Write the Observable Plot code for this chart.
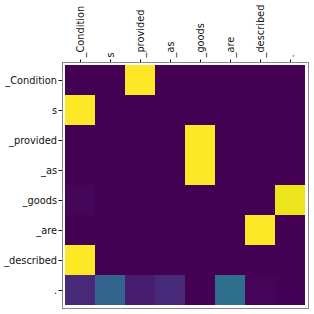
<!DOCTYPE html>
<html>
<head>
<meta charset="utf-8">
<script src="https://cdn.jsdelivr.net/npm/d3@7"></script>
<script src="https://cdn.jsdelivr.net/npm/@observablehq/plot@0.6"></script>
<style>
  html, body { margin: 0; padding: 0; background: #fff; }
  #chart svg { display: block; }
</style>
</head>
<body>
<div id="chart"></div>
<script>
const tokens = ["_Condition", "s", "_provided", "_as", "_goods", "_are", "_described", "."];
const row0 = [0, 0, 1, 0, 0, 0, 0, 0];
const row1 = [1, 0, 0, 0, 0, 0, 0, 0];
const row2 = [0, 0, 0, 0, 1, 0, 0, 0];
const row3 = [0, 0, 0, 0, 1, 0, 0, 0];
const row4 = [0.015, 0, 0, 0, 0, 0, 0, 0.97];
const row5 = [0, 0, 0, 0, 0, 0, 1, 0];
const row6 = [1, 0, 0, 0, 0, 0, 0, 0];
const row7 = [0.11, 0.32, 0.08, 0.12, 0, 0.36, 0.01, 0.005];
const rows = [row0, row1, row2, row3, row4, row5, row6, row7];

const cells = [];
rows.forEach((r, i) => r.forEach((v, j) => cells.push({y: tokens[i], x: tokens[j], v})));

const chart = Plot.plot({
  width: 314,
  height: 314,
  marginLeft: 62,
  marginTop: 62,
  marginRight: 6,
  marginBottom: 6,
  style: {fontFamily: "DejaVu Sans", fontSize: "9.8px", color: "#111", background: "#fff"},
  x: {domain: tokens, padding: 0, axis: null},
  y: {domain: tokens, padding: 0, label: null, tickSize: 3.5, tickPadding: 2},
  color: {type: "linear", scheme: "viridis", domain: [0, 1]},
  marks: [
    Plot.cell(cells, {x: "x", y: "y", fill: "v", inset: 0}),
    Plot.axisX({anchor: "top", tickSize: 3.5, tickFormat: () => "", label: null}),
    Plot.text(tokens, {x: d => d, text: d => d, frameAnchor: "top", rotate: -90, textAnchor: "start", lineAnchor: "middle", dy: -5, fill: "#111"}),
    Plot.frame({stroke: "#888", strokeWidth: 1})
  ]
});
document.getElementById("chart").appendChild(chart);
</script>
</body>
</html>
